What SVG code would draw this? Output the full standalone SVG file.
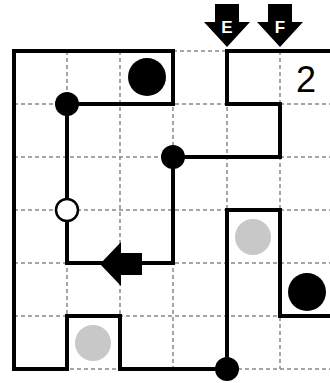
<svg xmlns="http://www.w3.org/2000/svg" width="330" height="383" viewBox="0 0 330 383">
<style>
.grid{stroke:#888;stroke-width:1.5;stroke-dasharray:4 3;fill:none}
.wall{stroke:#000;stroke-width:4;fill:none;stroke-linejoin:miter;stroke-linecap:square}
.blk{fill:#000}
.gry{fill:#c8c8c8}
.lbl{font-family:"Liberation Sans",Arial,sans-serif;font-weight:bold;font-size:17px;fill:#fff;text-anchor:middle}
.num{font-family:"Liberation Sans",Arial,sans-serif;font-size:36px;fill:#000;text-anchor:middle}
</style>
<rect width="330" height="383" fill="#fff"/>
<g id="grid">
<path class="grid" d="M14,104H330M14,157H330M14,210H330M14,263H330M14,316H330M14,369H330M173,51H227M67,51V369M120,51V369M173,51V369M227,51V369M280,51V369"/>
</g>
<g id="connectors">
<path class="wall" d="M67,104H173V51H14V369H67V316H120V369H227"/>
<path class="wall" d="M67,104V263H173V157H280V104H227V51H332"/>
<path class="wall" d="M227,369V210H280V316H332"/>
</g>
<g id="arrowE">
<polygon class="blk" points="215,4 239,4 239,22 250,22 227,47 204,22 215,22"/>
<text class="lbl" x="227" y="33">E</text>
</g>
<g id="arrowF">
<polygon class="blk" points="268,4 292,4 292,22 303,22 280,47 257,22 268,22"/>
<text class="lbl" x="280" y="33">F</text>
</g>
<g id="arrowLeft">
<polygon class="blk" points="100,264 121,242 121,253 142,253 142,275 121,275 121,286"/>
</g>
<g id="label2"><text class="num" x="306" y="92">2</text></g>
<g id="bigdot1"><circle class="blk" cx="147" cy="77" r="19"/></g>
<g id="bigdot2"><circle class="blk" cx="307" cy="292" r="19"/></g>
<g id="graydot1"><circle class="gry" cx="253" cy="237" r="18"/></g>
<g id="graydot2"><circle class="gry" cx="93" cy="343" r="18"/></g>
<g id="dotA"><circle class="blk" cx="67" cy="104" r="12"/></g>
<g id="dotB"><circle class="blk" cx="173" cy="157" r="12"/></g>
<g id="dotC"><circle class="blk" cx="227" cy="369" r="12"/></g>
<g id="openDot"><circle cx="67" cy="210" r="11" fill="#fff" stroke="#000" stroke-width="2.5"/></g>
</svg>
